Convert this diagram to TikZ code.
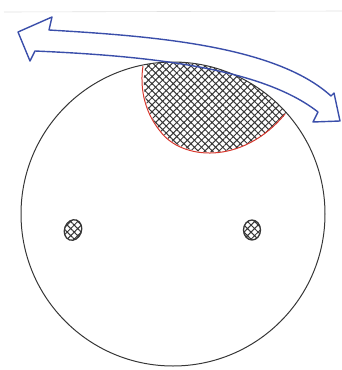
\documentclass[tikz,border=0pt]{standalone}
\usetikzlibrary{patterns.meta}
\definecolor{penblue}{RGB}{58,78,170}
\definecolor{penred}{RGB}{215,55,45}
\definecolor{pencil}{RGB}{55,55,55}
\tikzset{
  hatched/.style={pattern={Hatch[angle=45,distance=5pt,line width=1pt]},pattern color=pencil},
  spot/.style={hatched,draw=pencil,line width=1.3pt}
}
\begin{document}
\begin{tikzpicture}[x=1pt,y=-1pt]
\useasboundingbox (0,0) rectangle (342,370);
% faint line along the top of the sheet
\draw[black!12,line width=0.6pt] (4,12) -- (342,11);
% Main circle
\coordinate (o) at (173,214);
% Hatched cap under the arrow (clipped to the circle)
\begin{scope}
  \clip (o) circle (152);
  \fill[hatched] (140,55) -- (145,68) .. controls (142,85) and (144,110) .. (160,130)
    .. controls (180,158) and (240,165) .. (282,118) -- (300,100) -- (250,40) -- cycle;
\end{scope}
% Red edge of the cap
\draw[penred,line width=1pt] (143,66) .. controls (140,85) and (143,110) .. (160,131)
  .. controls (181,160) and (242,166) .. (285,114);
% Circle outline
\draw[pencil,line width=1pt] (o) circle (152);
% Two small hatched spots
\filldraw[spot,rotate around={-20:(73,230)}] (73,230) ellipse (8.5 and 10.5);
\filldraw[spot] (252,230) ellipse (8.5 and 10);
% Curved double arrow
\draw[penblue,line width=1.4pt,line join=round] (18,32) -- (52,17) -- (49,30)
  .. controls (150,36) and (275,45) .. (331,96) -- (334,93) -- (340,121) -- (313,122)
  -- (318,112) .. controls (262,68) and (150,56) .. (35,51) -- (30,61) -- cycle;
\end{tikzpicture}
\end{document}
